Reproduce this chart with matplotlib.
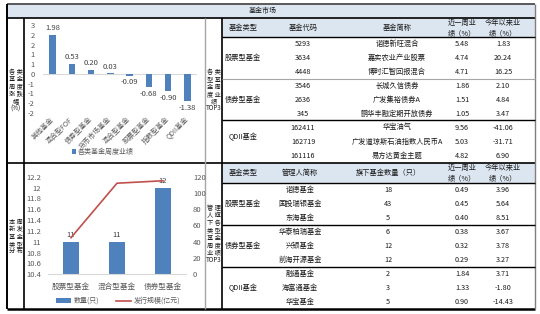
import matplotlib
matplotlib.use('Agg')
import matplotlib.pyplot as plt
import numpy as np
from matplotlib.patches import Rectangle
from matplotlib.ticker import FuncFormatter, MultipleLocator

plt.rcParams['font.family'] = ['Noto Sans CJK SC', 'DejaVu Sans']

# ---- data ----
perf_cats = ['其他基金', '混合型FOF', '债券型基金', '货币市场基金',
             '混合型基金', '股票型基金', '指数型基金', 'QDII基金']
perf_vals = [1.98, 0.53, 0.20, 0.03, -0.09, -0.68, -0.90, -1.38]

new_types = ['股票型基金', '混合型基金', '债券型基金']
new_count = [11, 11, 12]
new_size = [45, 112, 115]

group_types = ['股票型基金', '债券型基金', 'QDII基金']

top_codes = ['5293', '3634', '4448', '3546', '2636', '345',
             '162411', '162719', '161116']
top_names = ['诺德新旺混合', '嘉实农业产业股票', '博时汇智回报混合',
             '长城久信债券', '广发集裕债券A', '鹏华丰融定期开放债券',
             '华宝油气', '广发道琼斯石油指数人民币A', '易方达黄金主题']
top_week = [5.48, 4.74, 4.71, 1.86, 1.51, 1.05, 9.56, 5.03, 4.82]
top_ytd = [1.83, 20.24, 16.25, 2.10, 4.84, 3.47, -41.06, -31.71, 6.90]

mgr_names = ['诺德基金', '国投瑞银基金', '东海基金', '华泰柏瑞基金', '兴银基金',
             '前海开源基金', '融通基金', '海富通基金', '华宝基金']
mgr_count = [18, 43, 5, 6, 12, 12, 2, 3, 5]
mgr_week = [0.49, 0.45, 0.40, 0.38, 0.32, 0.29, 1.84, 1.33, 0.90]
mgr_ytd = [3.96, 5.64, 8.51, 3.67, 3.78, 3.27, 3.71, -1.80, -14.43]

top_header = ['基金类型', '基金代码', '基金简称', '近一周业\n绩（%）', '今年以来业\n绩（%）']
bot_header = ['基金类型', '管理人简称', '旗下基金数量（只）', '近一周业\n绩（%）', '今年以来业\n绩（%）']

side_top1 = ['各 类', '基 金', '周 度', '涨 跌', '幅', '(%)']
side_top2 = ['各 类', '型 基', '金 周', '度 业', '绩', 'TOP3']
side_bot1 = ['本 周', '新 发', '基 金', '类 型', '分 布']
side_bot2 = ['管 理', '人 旗', '下 各', '类 型', '基 金', '周 度', '业 绩', 'TOP3']

BLUE = '#4f81bd'
RED = '#c0504d'
LB = '#dce6f1'
TXT = '#1a1a1a'
GREY = '#595959'

W, H = 540, 314
fig = plt.figure(figsize=(W / 100, H / 100), dpi=100)
bg = fig.add_axes([0, 0, 1, 1])
bg.set_xlim(0, W)
bg.set_ylim(H, 0)
bg.axis('off')


def box(x0, y0, x1, y1):
    return fig.add_axes([x0 / W, 1 - y1 / H, (x1 - x0) / W, (y1 - y0) / H])


def t(x, y, s, size=5.2, **kw):
    bg.text(x, y, s, ha='center', va='center', fontsize=size, color=TXT,
            linespacing=1.25, **kw)


def hline(y, x0, x1, c='black', lw=1.0):
    bg.plot([x0, x1], [y, y], color=c, lw=lw, solid_capstyle='butt')


def vline(x, y0, y1, c='black', lw=1.0):
    bg.plot([x, x], [y0, y1], color=c, lw=lw, solid_capstyle='butt')


# backgrounds
bg.add_patch(Rectangle((7, 4), 528, 14, color=LB, lw=0))
bg.add_patch(Rectangle((222, 18), 313, 19, color=LB, lw=0))
bg.add_patch(Rectangle((222, 163), 313, 20, color=LB, lw=0))

# frame lines
hline(4, 7, 535, '#404040', 1.2)
hline(18, 7, 535, 'black', 1.2)
hline(163, 7, 535, 'black', 1.2)
hline(309, 7, 535, 'black', 1.8)
vline(7, 4, 309, 'black', 1.4)
vline(24, 18, 309, 'black', 1.2)
vline(205, 18, 309, '#a6a6a6', 1.0)
vline(222, 18, 309, 'black', 1.2)
vline(535, 4, 309, '#7f7f7f', 1.0)

hline(37, 222, 535, 'black', 1.0)
hline(79, 222, 535, '#a6a6a6', 0.8)
hline(120, 222, 535, 'black', 1.0)
hline(183, 222, 535, 'black', 1.0)
hline(225, 222, 535, 'black', 1.0)
hline(267, 222, 535, 'black', 1.0)

t(263, 11, '基金市场', size=5)

# side labels
for i, s in enumerate(side_top1):
    t(15.5, 72 + 7.3 * i, s, size=4.5)
for i, s in enumerate(side_top2):
    t(213.5, 72 + 7.3 * i, s, size=4.5)
for i, s in enumerate(side_bot1):
    t(15.5, 222 + 7.3 * i, s, size=4.5)
for i, s in enumerate(side_bot2):
    t(213.5, 208 + 7.4 * i, s, size=4.5)

# ---- tables ----
top_cols = [243, 303, 397, 462, 503]
bot_cols = [243, 300, 388, 462, 503]
for cx, s in zip(top_cols, top_header):
    t(cx, 28, s)
for cx, s in zip(bot_cols, bot_header):
    t(cx, 173, s)

for i in range(9):
    y = 43.5 + 14 * i
    t(top_cols[1], y, top_codes[i])
    t(top_cols[2], y, top_names[i])
    t(top_cols[3], y, f'{top_week[i]:.2f}')
    t(top_cols[4], y, f'{top_ytd[i]:.2f}')
    y2 = 190 + 14 * i
    t(bot_cols[1], y2, mgr_names[i])
    t(bot_cols[2], y2, str(mgr_count[i]))
    t(bot_cols[3], y2, f'{mgr_week[i]:.2f}')
    t(bot_cols[4], y2, f'{mgr_ytd[i]:.2f}')
for g, s in enumerate(group_types):
    t(243, 57.5 + 42 * g - (4 if g == 2 else 0), s)
    t(243, 204 + 42 * g, s)

# ---- top chart ----
ax1 = box(43, 25, 197, 113)
x1 = np.arange(len(perf_cats))
bars1 = ax1.bar(x1, perf_vals, width=0.33, color=BLUE, zorder=2)
ax1.axhline(0, color='#d9d9d9', lw=0.8, zorder=1)
ax1.set_xlim(-0.5, len(perf_cats) - 0.5)
ax1.set_ylim(-2, 2.5)
ax1.yaxis.set_major_locator(MultipleLocator(0.5))
ax1.yaxis.set_major_formatter(
    FuncFormatter(lambda v, p: '%d' % (np.sign(v) * np.floor(abs(v) + 0.5))))
ax1.set_xticks(x1)
ax1.set_xticklabels(perf_cats, rotation=45, ha='right', va='center',
                    rotation_mode='anchor')
ax1.tick_params(axis='y', length=0, labelsize=5.5, labelcolor=GREY, pad=6)
ax1.tick_params(axis='x', length=0, labelsize=5, labelcolor=GREY, pad=4)
for sp in ax1.spines.values():
    sp.set_visible(False)
ax1.patch.set_alpha(0)
for i, v in enumerate(perf_vals):
    ax1.annotate(f'{v:.2f}', (i, v), xytext=(0, 2 if v >= 0 else -2),
                 textcoords='offset points', ha='center',
                 va='bottom' if v >= 0 else 'top', fontsize=5.5, color='#404040')
ax1.legend([bars1], ['各类基金周度业绩'], loc='center',
           bbox_to_anchor=(103 / W, 1 - 152 / H), bbox_transform=fig.transFigure,
           frameon=False, fontsize=5, handlelength=0.6, handleheight=0.6,
           handletextpad=0.3, labelcolor=GREY)

# ---- bottom chart ----
ax2 = box(48, 176.7, 186, 274.3)
x2 = np.arange(len(new_types))
bars2 = ax2.bar(x2, new_count, width=0.34, color=BLUE, label='数量(只)')
ax2.set_xlim(-0.5, len(new_types) - 0.5)
ax2.set_ylim(10.4, 12.2)
ax2.set_yticks(np.arange(10.4, 12.21, 0.2))
ax2.yaxis.set_major_formatter(FuncFormatter(lambda v, p: f'{round(v, 1):g}'))
ax2.set_xticks(x2)
ax2.set_xticklabels(new_types)
ax2.tick_params(axis='y', length=0, labelsize=5.5, labelcolor=GREY, pad=5)
ax2.tick_params(axis='x', length=0, labelsize=5.5, labelcolor=GREY, pad=6)
for k in ['top', 'left', 'right']:
    ax2.spines[k].set_visible(False)
ax2.spines['bottom'].set_color('#d9d9d9')
ax2.patch.set_alpha(0)
for i, c in enumerate(new_count):
    ax2.annotate(str(c), (i, c), xytext=(0, 2), textcoords='offset points',
                 ha='center', va='bottom', fontsize=5.5, color='#404040')

ax2b = ax2.twinx()
line2, = ax2b.plot(x2, new_size, color=RED, lw=1.2, label='发行规模(亿元)')
ax2b.set_ylim(0, 120)
ax2b.yaxis.set_major_locator(MultipleLocator(20))
ax2b.tick_params(axis='y', length=0, labelsize=5.5, labelcolor=GREY, pad=5)
for sp in ax2b.spines.values():
    sp.set_visible(False)

fig.legend([bars2, line2], ['数量(只)', '发行规模(亿元)'], loc='center',
           bbox_to_anchor=(118 / W, 1 - 301 / H), ncol=2, frameon=False,
           fontsize=5, handlelength=2.2, handleheight=0.6, handletextpad=0.3,
           columnspacing=2.5, labelcolor=GREY)

fig.savefig('out.png', dpi=100)
